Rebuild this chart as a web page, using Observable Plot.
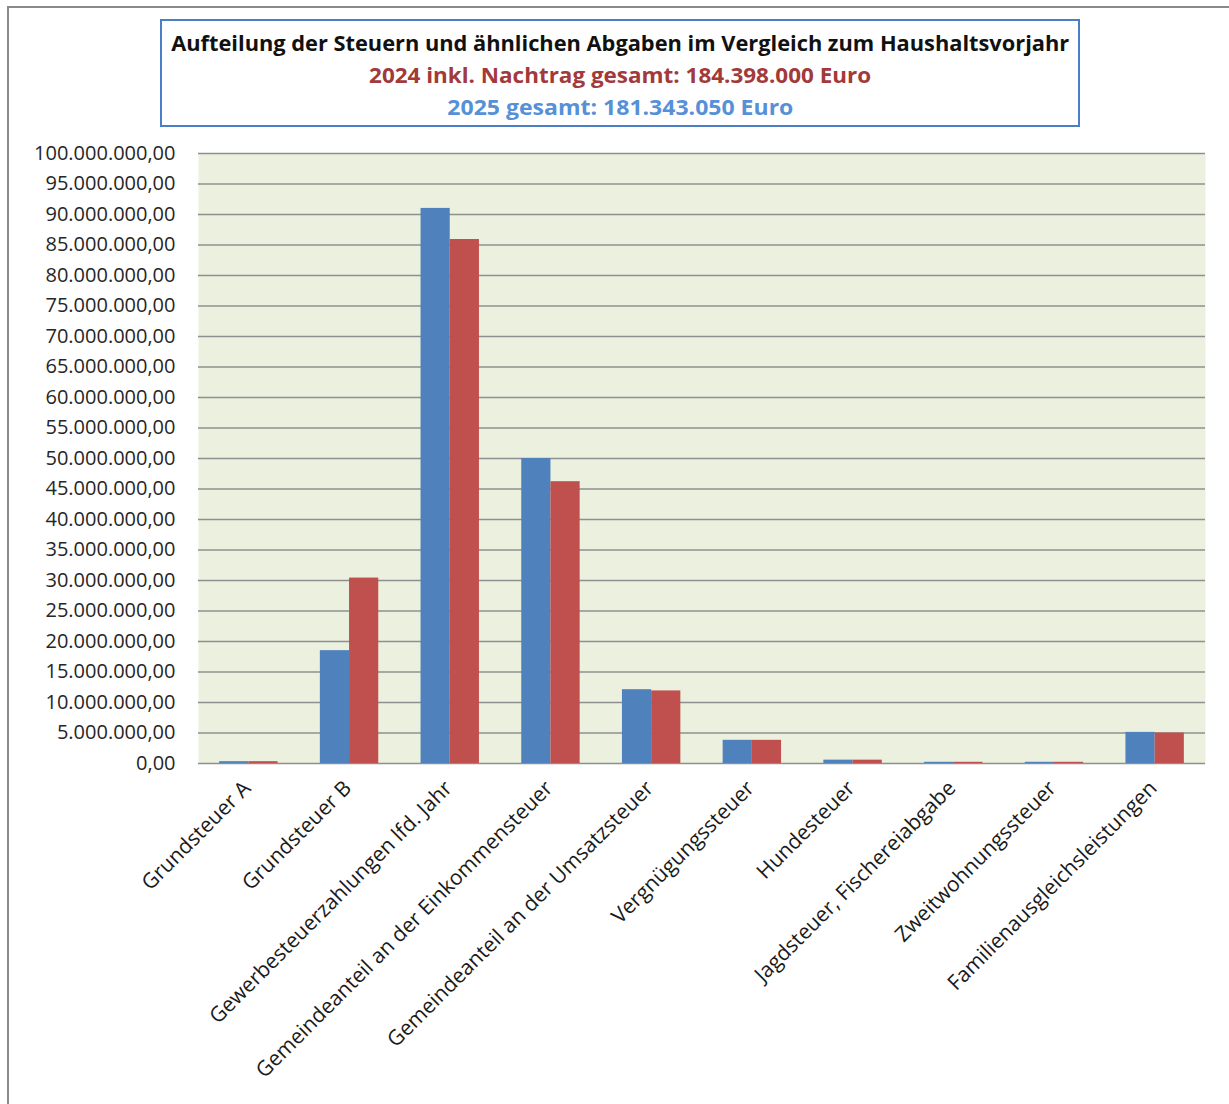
<!DOCTYPE html>
<html>
<head>
<meta charset="utf-8">
<script src="https://cdn.jsdelivr.net/npm/d3@7"></script>
<script src="https://cdn.jsdelivr.net/npm/@observablehq/plot@0.6"></script>
<style>
  html, body { margin: 0; padding: 0; background: #fff; }
  #page { position: relative; width: 1229px; height: 1104px; overflow: hidden; font-family: "Open Sans", sans-serif; }
  #outer { position: absolute; left: 7px; top: 6px; width: 1240px; height: 1110px; border-left: 2px solid #8a8a8a; border-top: 2px solid #8a8a8a; pointer-events: none; }
  #header { position: relative; height: 140px; }
  #titlebox { position: absolute; left: 160px; top: 19px; width: 916px; height: 104px; border: 2px solid #4a7ec6; background: #fff; }
  .tl { position: absolute; left: 0; width: 100%; text-align: center; white-space: nowrap; font-weight: bold; font-size: 22px; line-height: 28px; }
  .tl span { display: inline-block; transform-origin: center; }
  #t1 { top: 7px; color: #111; }
  #t2 { top: 39px; color: #a2393b; }
  #t3 { top: 71px; color: #5690d8; }
  #chart svg { display: block; }
</style>
</head>
<body>
<div id="page">
  <div id="header">
    <div id="titlebox">
      <div class="tl" id="t1"><span>Aufteilung der Steuern und ähnlichen Abgaben im Vergleich zum Haushaltsvorjahr</span></div>
      <div class="tl" id="t2"><span>2024 inkl. Nachtrag gesamt: 184.398.000 Euro</span></div>
      <div class="tl" id="t3"><span>2025 gesamt: 181.343.050 Euro</span></div>
    </div>
  </div>
  <div id="chart"></div>
  <div id="outer"></div>
</div>
<script>
const categories = [
  "Grundsteuer A",
  "Grundsteuer B",
  "Gewerbesteuerzahlungen lfd. Jahr",
  "Gemeindeanteil an der Einkommensteuer",
  "Gemeindeanteil an der Umsatzsteuer",
  "Vergnügungssteuer",
  "Hundesteuer",
  "Jagdsteuer, Fischereiabgabe",
  "Zweitwohnungssteuer",
  "Familienausgleichsleistungen"
];
const values2025 = [300000, 18500000, 91000000, 50000000, 12100000, 3800000, 550000, 200000, 200000, 5100000];
const values2024 = [300000, 30400000, 85900000, 46200000, 11900000, 3800000, 550000, 200000, 200000, 5000000];
const yTicks = d3.range(0, 100000001, 5000000);

// fit title lines to target widths (Calibri-like condensed look)
const targets = {t1: 898, t2: 502, t3: 346};
for (const id in targets) {
  const s = document.querySelector("#" + id + " span");
  const w = s.getBoundingClientRect().width;
  s.style.transform = `scaleX(${targets[id] / w})`;
}

const de = d3.formatLocale({decimal: ",", thousands: ".", grouping: [3], currency: ["", " €"]});
const fmt = de.format(",.2f");

const data = [];
categories.forEach((c, i) => {
  data.push({cat: c, year: "2025", value: values2025[i]});
  data.push({cat: c, year: "2024", value: values2024[i]});
});

const W = 1229, H = 964;
const mL = 198, mR = 24, mT = 13, mB = 341;
const padIn = 0.42, padOut = 0.21;
const step = (W - mL - mR) / (categories.length - padIn + 2 * padOut);
const half = step * (1 - padIn) / 2;

const plot = Plot.plot({
  width: W,
  height: H,
  marginLeft: mL,
  marginRight: mR,
  marginTop: mT,
  marginBottom: mB,
  style: {fontFamily: "Open Sans, sans-serif", fontSize: "20px", color: "#262626", background: "transparent"},
  x: {domain: categories, paddingInner: padIn, paddingOuter: padOut, round: false, axis: null},
  y: {domain: [0, 100000000], axis: null},
  marks: [
    Plot.frame({fill: "#ebf1de", stroke: "none"}),
    Plot.ruleY(yTicks, {stroke: "#8f8f8f", strokeWidth: 1.5}),
    Plot.ruleX([0], {frameAnchor: "left", stroke: "#8f8f8f", strokeWidth: 1.5}),
    Plot.barY(data.filter(d => d.year === "2025"), {x: "cat", y: "value", fill: "#4f81bd", insetRight: half}),
    Plot.barY(data.filter(d => d.year === "2024"), {x: "cat", y: "value", fill: "#c0504d", insetLeft: half}),
    Plot.axisY({ticks: yTicks, tickFormat: fmt, tickSize: 0, tickPadding: 23, fontSize: 20, fill: "#262626", label: null}),
    Plot.text(categories, {x: d => d, frameAnchor: "bottom", dy: 26, dx: 3, rotate: -45, textAnchor: "end", fontSize: 21, fill: "#1a1a1a"})
  ]
});
document.getElementById("chart").appendChild(plot);
</script>
</body>
</html>
